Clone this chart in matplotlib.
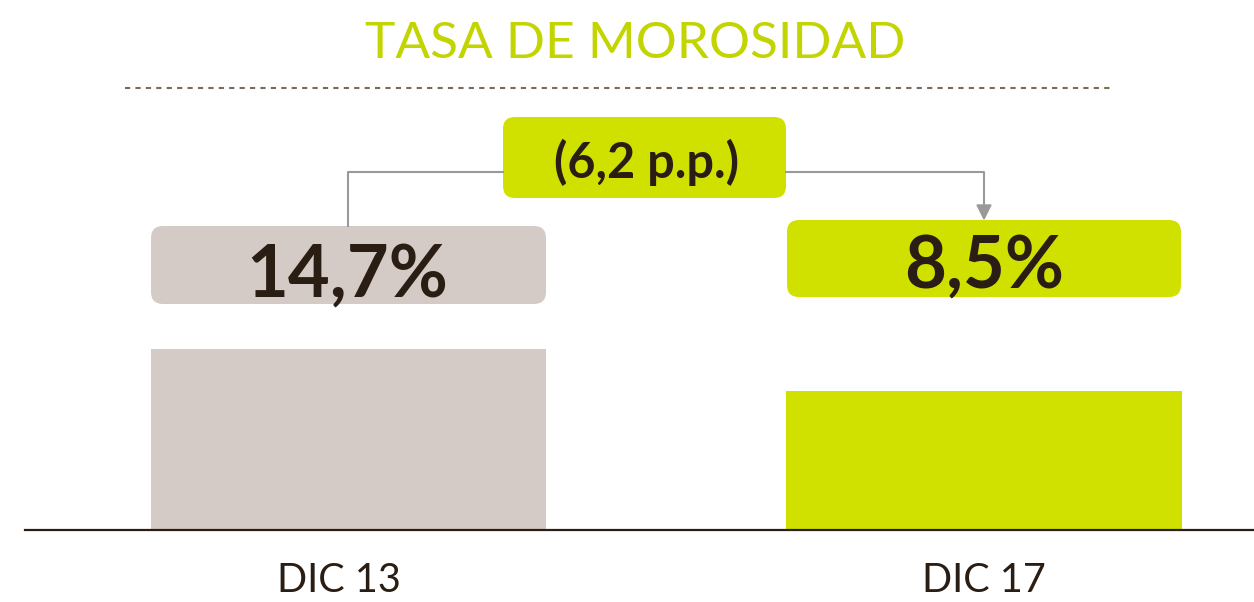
import matplotlib.pyplot as plt
from matplotlib.patches import FancyBboxPatch
from matplotlib.lines import Line2D

plt.rcParams['font.family'] = ['Lato', 'DejaVu Sans']

# datos
categorias = ['DIC 13', 'DIC 17']
morosidad = [14.7, 8.5]
etiquetas = ['14,7%', '8,5%']
diferencia = '(6,2 p.p.)'
titulo = 'TASA DE MOROSIDAD'

gris = '#d5cbc6'
verde = '#d0e100'
verde_titulo = '#c3d500'
oscuro = '#2a1e14'

W, H = 1254, 602
fig = plt.figure(figsize=(W / 100, H / 100), dpi=100)


def px(x, y):
    # pixel (desde arriba-izquierda) -> fraccion de figura
    return x / W, 1 - y / H


# eje: barras sobre una base ficticia (las alturas del original no son proporcionales)
base = -12
ax = fig.add_axes([0, 0, 1, 1])
ax.bar(range(len(categorias)), [v - base for v in morosidad], bottom=base,
       width=0.622, color=[gris, verde], zorder=2)
ax.set_xlim(-0.548, 1.425)
ax.set_ylim(base - 72 / 6.78, base + 530 / 6.78)
ax.axhline(base, xmin=25 / W, xmax=1, color=oscuro, lw=1.6, zorder=3)
ax.axis('off')

# etiquetas de categoria (la primera algo corrida a la izquierda, como en el original)
desplaz = [-0.014, 0]
for i, c in enumerate(categorias):
    ax.text(i + desplaz[i], base - 51 / 6.78, c, ha='center', va='center',
            fontsize=28.5, color=oscuro)

# titulo y linea punteada
fig.text(*px(635, 44), titulo, ha='center', va='center',
         fontsize=37, color=verde_titulo)
fig.add_artist(Line2D([125 / W, 1112 / W], [1 - 88 / H] * 2,
                      transform=fig.transFigure, color='#7a6a5a',
                      lw=1.5, linestyle=(0, (2.5, 2.5))))


def caja(x0, y0, x1, y1, color):
    p = FancyBboxPatch((x0, H - y1), x1 - x0, y1 - y0,
                       boxstyle='round,pad=0,rounding_size=12',
                       transform=None, facecolor=color, edgecolor='none')
    fig.add_artist(p)


# cajas de valores
caja(151, 226, 546, 304, gris)
caja(787, 220, 1181, 297, verde)
caja(503, 117, 786, 198, verde)

fig.text(*px(347, 276), etiquetas[0], ha='center', va='center',
         fontsize=52, fontweight='bold', color=oscuro)
fig.text(*px(984, 267), etiquetas[1], ha='center', va='center',
         fontsize=52, fontweight='bold', color=oscuro)
fig.text(*px(646, 162), diferencia, ha='center', va='center',
         fontsize=35, fontweight='bold', color=oscuro)

# conectores
gris_linea = '#999999'
fig.add_artist(Line2D([348 / W, 348 / W, 503 / W],
                      [1 - 226 / H, 1 - 172 / H, 1 - 172 / H],
                      transform=fig.transFigure, color=gris_linea, lw=1.5))
fig.add_artist(Line2D([786 / W, 984 / W, 984 / W],
                      [1 - 172 / H, 1 - 172 / H, 1 - 206 / H],
                      transform=fig.transFigure, color=gris_linea, lw=1.5))
fig.add_artist(plt.Polygon([px(977, 205), px(991, 205), px(984, 219)],
                           closed=True, transform=fig.transFigure,
                           color=gris_linea))

fig.savefig('out.png', dpi=100)
